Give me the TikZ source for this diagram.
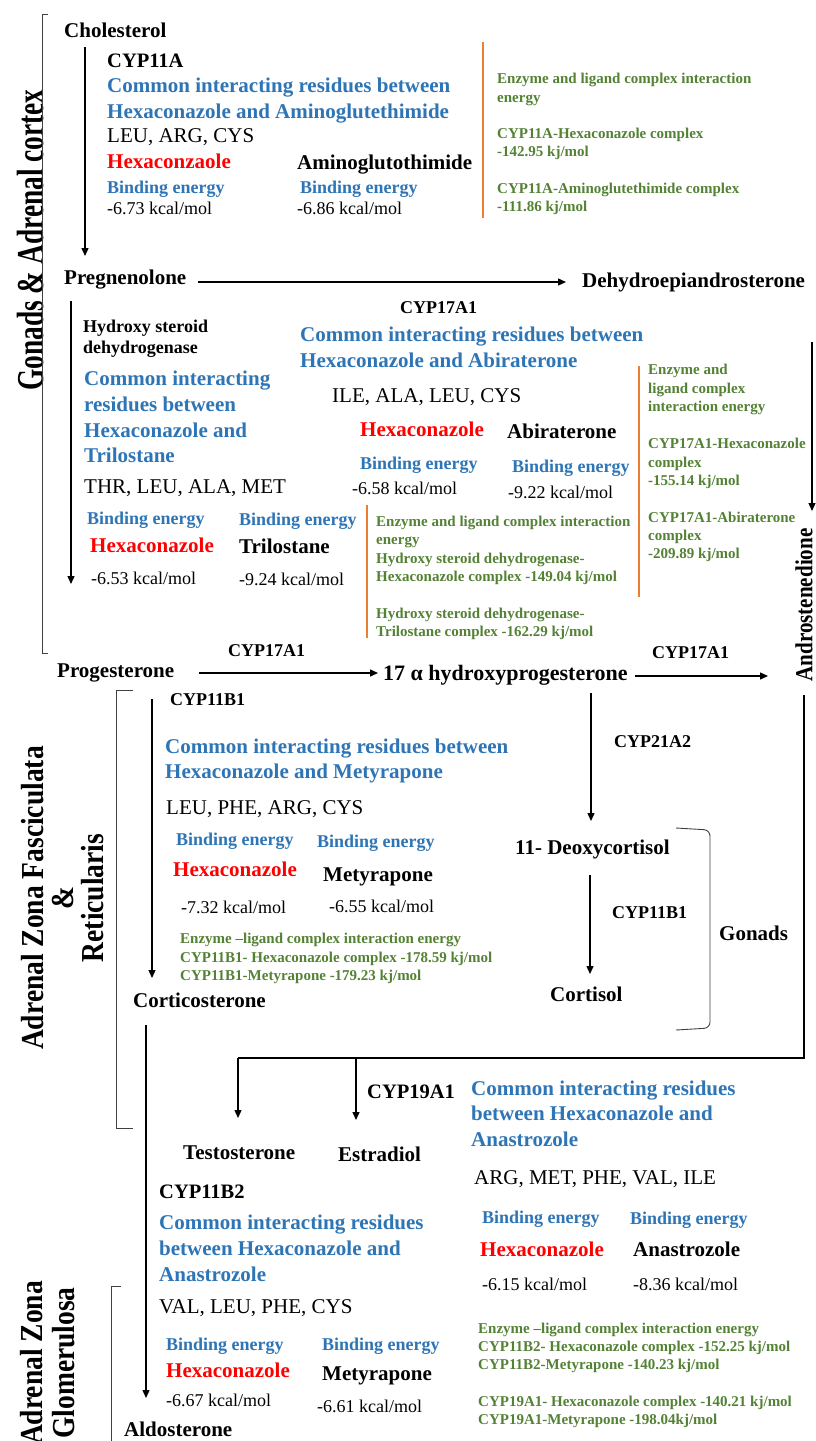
\documentclass[tikz,border=0pt]{standalone}
\usepackage{fontspec}
\setmainfont{Liberation Serif}
\newfontfamily\condfont[FakeStretch=0.86]{Liberation Serif}
\newfontfamily\condfontB[FakeStretch=0.72]{Liberation Serif}
\usetikzlibrary{arrows.meta}
\definecolor{cblue}{RGB}{46,117,182}
\definecolor{cgreen}{RGB}{84,130,53}
\definecolor{corange}{RGB}{237,125,49}
\definecolor{cred}{RGB}{255,0,0}
\tikzset{
 txtbase/.style={inner sep=0pt, anchor=mid west, yshift=-3pt},
 nm/.style={txtbase, font=\fontsize{21}{25}\selectfont\bfseries},
 enz/.style={txtbase, font=\fontsize{18}{22}\selectfont\bfseries},
 enzL/.style={txtbase, font=\fontsize{20.5}{25}\selectfont\bfseries},
 bl/.style={txtbase, text=cblue, font=\fontsize{21}{25}\selectfont\bfseries},
 res/.style={txtbase, font=\fontsize{21}{25}\selectfont},
 hx/.style={txtbase, text=cred, font=\fontsize{21}{25}\selectfont\bfseries},
 be/.style={txtbase, text=cblue, font=\fontsize{18}{22}\selectfont\bfseries},
 kc/.style={txtbase, font=\fontsize{18}{22}\selectfont},
 gr/.style={txtbase, text=cgreen, font=\fontsize{15}{18}\selectfont\bfseries},
 arr/.style={-{Triangle[length=8pt,width=7pt]}, line width=1.3pt},
 ln/.style={line width=1.3pt},
 brk/.style={line width=0.9pt, draw=black!75},
 orl/.style={line width=2pt, draw=corange},
 side/.style={inner sep=0pt, rotate=90, align=center, font=\condfont\fontsize{32}{30}\selectfont\bfseries},
}
\begin{document}
\begin{tikzpicture}[x=1pt,y=-1pt]
\useasboundingbox (0,0) rectangle (816,1441);
\clip (0,0) rectangle (816,1441);
\fill[white] (0,0) rectangle (816,1441);

% ---------- side labels and brackets ----------
\node[inner sep=0pt, rotate=90, font=\condfontB\fontsize{38}{40}\selectfont\bfseries] (lab1) at (31,240) {Gonads \& Adrenal cortex};
\node[side] (lab2) at (63,898) {Adrenal Zona Fasciculata\\\&\\Reticularis};
\node[side, font=\condfont\fontsize{32}{32}\selectfont\bfseries] (lab3) at (48,1363) {Adrenal Zona\\Glomerulosa};
\draw[brk] (48,14) -- (42,14) -- (42,653) -- (48,653);
\draw[brk] (133,690) -- (116,690) -- (116,1128) -- (133,1128);
\draw[brk] (121,1286) -- (111,1286) -- (111,1450);

% ---------- Cholesterol -> Pregnenolone ----------
\node[nm] (chol) at (64,32) {Cholesterol};
\node[enzL] (cyp11a) at (107,62) {CYP11A};
\node[bl] (b1a) at (107,87) {Common interacting residues between};
\node[bl] (b1b) at (107,113) {Hexaconazole and Aminoglutethimide};
\node[res] (r1) at (107,137) {LEU, ARG, CYS};
\node[hx] (h1) at (107,163) {Hexaconzaole};
\node[nm] (d1) at (297,164) {Aminoglutothimide};
\node[be] (be1a) at (107,188) {Binding energy};
\node[be] (be1b) at (300,188) {Binding energy};
\node[kc] (k1a) at (107,209) {-6.73 kcal/mol};
\node[kc] (k1b) at (297,209) {-6.86 kcal/mol};
\coordinate (o1s) at (483,42); \coordinate (o1e) at (483,218);
\draw[orl] (o1s) -- (o1e);
\node[gr] (g1a) at (497,78) {Enzyme and ligand complex interaction};
\node[gr] (g1b) at (497,97) {energy};
\node[gr] (g1c) at (497,133) {CYP11A-Hexaconazole complex};
\node[gr] (g1d) at (497,151) {-142.95 kj/mol};
\node[gr] (g1e) at (497,188) {CYP11A-Aminoglutethimide complex};
\node[gr] (g1f) at (497,206) {-111.86 kj/mol};
\coordinate (a1s) at (85,47); \coordinate (a1e) at (85,256);
\draw[arr] (a1s) -- (a1e);

% ---------- Pregnenolone row ----------
\node[nm] (preg) at (64,279) {Pregnenolone};
\node[nm] (dhea) at (582,282) {Dehydroepiandrosterone};
\coordinate (a2s) at (198,282); \coordinate (a2e) at (566,282);
\draw[arr] (a2s) -- (a2e);

% ---------- HSD block ----------
\coordinate (a3s) at (71,301); \coordinate (a3e) at (71,584);
\draw[arr] (a3s) -- (a3e);
\node[enz] (hsd1) at (83,327) {Hydroxy steroid};
\node[enz] (hsd2) at (83,348) {dehydrogenase};
\node[bl] (b2a) at (84,380) {Common interacting};
\node[bl] (b2b) at (84,406) {residues between};
\node[bl] (b2c) at (84,432) {Hexaconazole and};
\node[bl] (b2d) at (84,457) {Trilostane};
\node[res] (r2) at (84,488) {THR, LEU, ALA, MET};
\node[be] (be2a) at (87,519) {Binding energy};
\node[be] (be2b) at (239,520) {Binding energy};
\node[hx] (h2) at (90,547) {Hexaconazole};
\node[nm] (d2) at (239,548) {Trilostane};
\node[kc] (k2a) at (91,579) {-6.53 kcal/mol};
\node[kc] (k2b) at (239,580) {-9.24 kcal/mol};
\coordinate (o2s) at (367,505); \coordinate (o2e) at (367,638);
\draw[orl] (o2s) -- (o2e);
\node[gr] (g2a) at (376,521) {Enzyme and ligand complex interaction};
\node[gr] (g2b) at (376,539) {energy};
\node[gr] (g2c) at (376,558) {Hydroxy steroid dehydrogenase-};
\node[gr] (g2d) at (376,576) {Hexaconazole complex -149.04 kj/mol};
\node[gr] (g2e) at (376,613) {Hydroxy steroid dehydrogenase-};
\node[gr] (g2f) at (376,631) {Trilostane complex -162.29 kj/mol};

% ---------- CYP17A1 block ----------
\node[enz] (cyp17a) at (400,308) {CYP17A1};
\node[bl] (b3a) at (300,336) {Common interacting residues between};
\node[bl] (b3b) at (300,362) {Hexaconazole and Abiraterone};
\node[res] (r3) at (332,397) {ILE, ALA, LEU, CYS};
\node[hx] (h3) at (360,431) {Hexaconazole};
\node[nm] (d3) at (507,433) {Abiraterone};
\node[be] (be3a) at (360,464) {Binding energy};
\node[be] (be3b) at (512,467) {Binding energy};
\node[kc] (k3a) at (352,489) {-6.58 kcal/mol};
\node[kc] (k3b) at (508,493) {-9.22 kcal/mol};
\coordinate (o3s) at (639,366); \coordinate (o3e) at (639,597);
\draw[orl] (o3s) -- (o3e);
\node[gr] (g3a) at (648,369) {Enzyme and};
\node[gr] (g3b) at (648,388) {ligand complex};
\node[gr] (g3c) at (648,406) {interaction energy};
\node[gr] (g3d) at (648,443) {CYP17A1-Hexaconazole};
\node[gr] (g3e) at (648,462) {complex};
\node[gr] (g3f) at (648,480) {-155.14 kj/mol};
\node[gr] (g3g) at (648,517) {CYP17A1-Abiraterone};
\node[gr] (g3h) at (648,535) {complex};
\node[gr] (g3i) at (648,553) {-209.89 kj/mol};

% ---------- Androstenedione ----------
\coordinate (a4s) at (812,342); \coordinate (a4e) at (812,511);
\draw[arr] (a4s) -- (a4e);
\node[inner sep=0pt, rotate=90, font=\condfont\fontsize{24.5}{27}\selectfont\bfseries] (andro) at (804,605) {Androstenedione};

% ---------- Progesterone row ----------
\node[nm] (prog) at (57,672) {Progesterone};
\node[enz] (cyp17b) at (228,651) {CYP17A1};
\coordinate (a5s) at (199,673); \coordinate (a5e) at (378,673);
\draw[arr] (a5s) -- (a5e);
\node[txtbase, font=\fontsize{22}{26}\selectfont\bfseries] (ohp) at (383,675) {17 α hydroxyprogesterone};
\coordinate (a6s) at (635,676); \coordinate (a6e) at (768,676);
\draw[arr] (a6s) -- (a6e);
\node[enz] (cyp17c) at (652,653) {CYP17A1};

% ---------- CYP11B1 block ----------
\coordinate (a7s) at (152,699); \coordinate (a7e) at (152,978);
\draw[arr] (a7s) -- (a7e);
\node[enz] (cyp11b1) at (170,700) {CYP11B1};
\node[bl] (b4a) at (165,748) {Common interacting residues between};
\node[bl] (b4b) at (165,773) {Hexaconazole and Metyrapone};
\node[res] (r4) at (166,809) {LEU, PHE, ARG, CYS};
\node[be] (be4a) at (176,840) {Binding energy};
\node[be] (be4b) at (317,842) {Binding energy};
\node[hx] (h4) at (173,871) {Hexaconazole};
\node[nm] (d4) at (323,876) {Metyrapone};
\node[kc] (k4a) at (181,908) {-7.32 kcal/mol};
\node[kc] (k4b) at (329,907) {-6.55 kcal/mol};
\node[gr] (g4a) at (180,938) {Enzyme –ligand complex interaction energy};
\node[gr] (g4b) at (180,957) {CYP11B1- Hexaconazole complex -178.59 kj/mol};
\node[gr] (g4c) at (180,975) {CYP11B1-Metyrapone -179.23 kj/mol};
\node[nm] (cort) at (133,1002) {Corticosterone};
\coordinate (a8s) at (146,1025); \coordinate (a8e) at (146,1398);
\draw[arr] (a8s) -- (a8e);
\node[nm] (aldo) at (124,1431) {Aldosterone};

% ---------- Cortisol branch ----------
\coordinate (a9s) at (591,693); \coordinate (a9e) at (591,821);
\draw[arr] (a9s) -- (a9e);
\node[enz] (cyp21) at (614,742) {CYP21A2};
\node[nm] (deoxy) at (515,849) {11- Deoxycortisol};
\coordinate (a10s) at (590,875); \coordinate (a10e) at (590,974);
\draw[arr] (a10s) -- (a10e);
\node[enz] (cyp11b1r) at (612,913) {CYP11B1};
\node[nm] (cortisol) at (550,996) {Cortisol};
\draw[brk, rounded corners=6pt] (676,828) -- (710,830) -- (710,1028) -- (676,1030);
\node[nm] (gonads) at (719,935) {Gonads};

% ---------- Androstenedione to Testosterone / Estradiol ----------
\coordinate (r1s) at (804,695); \coordinate (r1c) at (804,1058); \coordinate (r1e) at (238,1058);
\draw[ln] (r1s) -- (r1c) -- (r1e);
\coordinate (a11e) at (238,1118);
\draw[arr] (r1e) -- (a11e);
\coordinate (a12s) at (356,1058); \coordinate (a12e) at (356,1120);
\draw[arr] (a12s) -- (a12e);
\node[enzL] (cyp19) at (367,1093) {CYP19A1};
\node[nm] (test) at (183,1154) {Testosterone};
\node[nm] (estr) at (338,1156) {Estradiol};

% ---------- CYP11B2 block ----------
\node[enzL] (cyp11b2) at (159,1193) {CYP11B2};
\node[bl] (b5a) at (159,1224) {Common interacting residues};
\node[bl] (b5b) at (159,1250) {between Hexaconazole and};
\node[bl] (b5c) at (159,1276) {Anastrozole};
\node[res] (r5) at (159,1308) {VAL, LEU, PHE, CYS};
\node[be] (be5a) at (166,1345) {Binding energy};
\node[be] (be5b) at (322,1345) {Binding energy};
\node[hx] (h5) at (166,1372) {Hexaconazole};
\node[nm] (d5) at (322,1375) {Metyrapone};
\node[kc] (k5a) at (166,1401) {-6.67 kcal/mol};
\node[kc] (k5b) at (317,1407) {-6.61 kcal/mol};

% ---------- CYP19A1 block ----------
\node[bl] (b6a) at (471,1090) {Common interacting residues};
\node[bl] (b6b) at (471,1115) {between Hexaconazole and};
\node[bl] (b6c) at (471,1141) {Anastrozole};
\node[res] (r6) at (474,1179) {ARG, MET, PHE, VAL, ILE};
\node[be] (be6a) at (482,1218) {Binding energy};
\node[be] (be6b) at (630,1219) {Binding energy};
\node[hx] (h6) at (480,1251) {Hexaconazole};
\node[nm] (d6) at (633,1251) {Anastrozole};
\node[kc] (k6a) at (482,1285) {-6.15 kcal/mol};
\node[kc] (k6b) at (633,1285) {-8.36 kcal/mol};
\node[gr] (g6a) at (478,1328) {Enzyme –ligand complex interaction energy};
\node[gr] (g6b) at (478,1346) {CYP11B2- Hexaconazole complex -152.25 kj/mol};
\node[gr] (g6c) at (478,1364) {CYP11B2-Metyrapone -140.23 kj/mol};
\node[gr] (g6d) at (478,1401) {CYP19A1- Hexaconazole complex -140.21 kj/mol};
\node[gr] (g6e) at (478,1419) {CYP19A1-Metyrapone -198.04kj/mol};
\end{tikzpicture}
\end{document}
